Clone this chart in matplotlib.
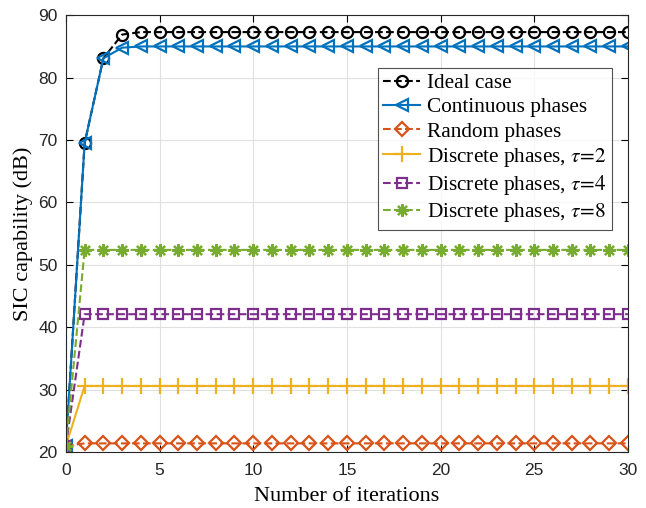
import numpy as np
import matplotlib
matplotlib.use("Agg")
import matplotlib.pyplot as plt

iterations = np.arange(0, 31)

ideal = [21.0, 69.5, 83.1, 86.9] + [87.3] * 27
continuous = [21.0, 69.5, 83.1, 84.8] + [85.0] * 27
random_ph = [21.0] + [21.4] * 30
discrete_t2 = [21.0] + [30.6] * 30
discrete_t4 = [21.0] + [42.1] * 30
discrete_t8 = [21.0] + [52.4] * 30

labels = ["Ideal case", "Continuous phases", "Random phases",
          r"Discrete phases, $\tau\!=\!2$", r"Discrete phases, $\tau\!=\!4$",
          r"Discrete phases, $\tau\!=\!8$"]

series = [ideal, continuous, random_ph, discrete_t2, discrete_t4, discrete_t8]
colors = ["black", "#0072BD", "#D95319", "#EDB120", "#7E2F8E", "#77AC30"]
styles = ["--", "-", "--", "-", "--", "--"]
markers = ["o", "<", "D", "+", "s", (8, 2, 0)]
msizes = [8, 9, 7, 11, 7, 9]

plt.rcParams["mathtext.fontset"] = "stix"

fig = plt.figure(figsize=(6.46, 5.08), dpi=100)
ax = fig.add_axes([0.102, 0.110, 0.870, 0.860])

for y, c, ls, m, ms, lab in zip(series, colors, styles, markers, msizes, labels):
    filled = m == "+" or isinstance(m, tuple)
    ax.plot(iterations, y, linestyle=ls, color=c, marker=m, markersize=ms,
            markerfacecolor=c if filled else "none",
            markeredgewidth=1.6, linewidth=1.5, label=lab)

ax.set_xlim(0, 30)
ax.set_ylim(20, 90)
ax.set_xticks(range(0, 31, 5))
ax.set_yticks(range(20, 91, 10))
ax.grid(True, color="#e0e0e0", linewidth=0.8)
ax.set_axisbelow(True)
ax.tick_params(direction="in", top=True, right=True, labelsize=12.5, length=5)
ax.tick_params(axis="x", pad=8)
ax.tick_params(axis="y", pad=6)
for lbl in ax.get_xticklabels() + ax.get_yticklabels():
    lbl.set_family("Liberation Sans")
    lbl.set_color("#262626")
for sp in ax.spines.values():
    sp.set_linewidth(0.8)
    sp.set_color("#262626")

ax.set_xlabel("Number of iterations", family="Liberation Serif", fontsize=16,
              labelpad=6)
ax.set_ylabel("SIC capability (dB)", family="Liberation Serif", fontsize=16,
              labelpad=4)

leg = ax.legend(loc="upper right", bbox_to_anchor=(0.9715, 0.879),
                prop={"family": "Liberation Serif", "size": 15.3},
                frameon=True, fancybox=False, edgecolor="#262626",
                handlelength=1.75, handletextpad=0.3, borderpad=0.25,
                labelspacing=0.2, borderaxespad=0.0)
leg.get_frame().set_linewidth(0.8)

fig.savefig("out.png", dpi=100)
